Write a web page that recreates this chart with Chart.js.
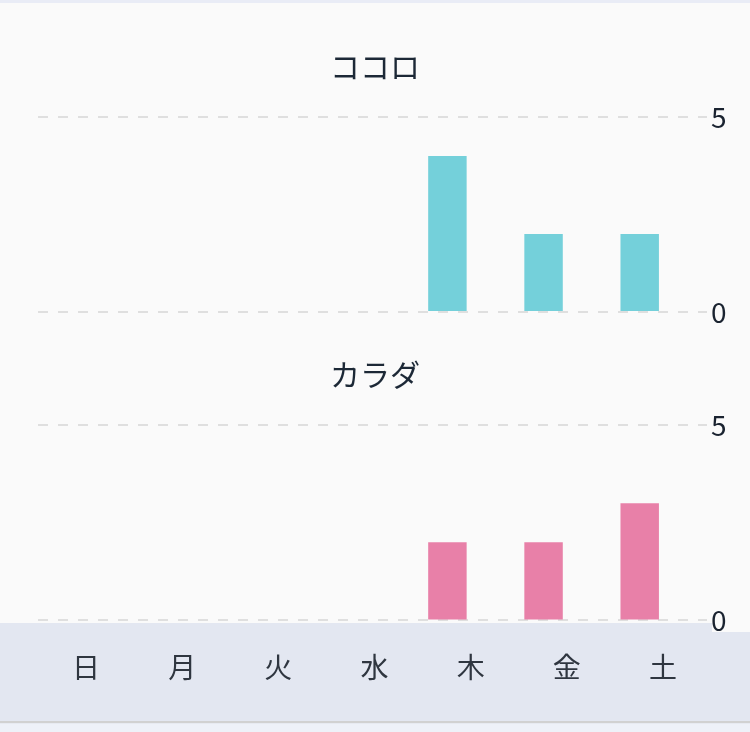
<!DOCTYPE html>
<html>
<head>
<meta charset="utf-8">
<script src="https://cdn.jsdelivr.net/npm/chart.js@4"></script>
<style>
  html, body { margin: 0; padding: 0; }
  body { width: 750px; height: 732px; background: #eef1f8; position: relative; overflow: hidden; }
  #page { position: absolute; left: 0; top: 3px; width: 750px; height: 720px; background: #fafafa; }
  #topline { position: absolute; left: 0; top: 0; width: 750px; height: 3px; background: #e9ecf6; }
  #band { position: absolute; left: 0; top: 623px; width: 750px; height: 98px; background: #e3e7f1; box-shadow: 0 2px 1px rgba(0,0,0,0.16); z-index: 1; }
  #tickbox { position: absolute; left: 712px; top: 623px; width: 38px; height: 9px; background: #fafafa; z-index: 2; }
  canvas { position: absolute; left: 0; }
  #c1 { top: 40px; z-index: 3; }
  #c2 { top: 348px; z-index: 3; }
</style>
</head>
<body>
<div id="topline"></div>
<div id="page"></div>
<div id="band"></div>
<div id="tickbox"></div>
<canvas id="c1" width="750" height="300" style="width:750px;height:300px"></canvas>
<canvas id="c2" width="750" height="372" style="width:750px;height:372px"></canvas>
<script>
const days = ['日', '月', '火', '水', '木', '金', '土'];
const kokoroTitle = 'ココロ';
const karadaTitle = 'カラダ';
const kokoroValues = [null, null, null, null, 4, 2, 2];
const karadaValues = [null, null, null, null, 2, 2, 3];
const emptySlot = [null, null, null, null, null, null, null];
const yTicks = [0, 5];

const FONT = "'Noto Sans CJK JP', 'Noto Sans', sans-serif";

function makeChart(id, title, values, color, showX) {
  return new Chart(document.getElementById(id), {
    type: 'bar',
    data: {
      labels: days,
      datasets: [
        { data: values, backgroundColor: color, borderWidth: 0, barPercentage: 1, categoryPercentage: 0.8, yAxisID: 'y' },
        { data: emptySlot, backgroundColor: color, borderWidth: 0, barPercentage: 1, categoryPercentage: 0.8, yAxisID: 'y' }
      ]
    },
    options: {
      responsive: false,
      animation: false,
      devicePixelRatio: 1,
      layout: { padding: { left: 14, right: 14, top: 0, bottom: showX ? 6 : 28 } },
      plugins: {
        legend: { display: false },
        tooltip: { enabled: false },
        title: {
          display: true,
          text: title,
          color: '#1c2836',
          font: { family: FONT, size: 30, weight: 'normal', lineHeight: 1.2 },
          padding: { top: 9, bottom: 32 }
        }
      },
      scales: {
        x: {
          display: showX,
          grid: { display: false, drawTicks: false },
          border: { display: false },
          ticks: {
            padding: 30,
            labelOffset: 4,
            color: '#2f3640',
            maxRotation: 0,
            autoSkip: false,
            font: { family: FONT, size: 28 }
          }
        },
        yl: {
          position: 'left',
          display: true,
          min: 0,
          max: 5,
          grid: { display: false, drawTicks: false },
          border: { display: false },
          ticks: { display: false },
          afterFit(axis) { axis.width = 20; }
        },
        y: {
          position: 'right',
          min: yTicks[0],
          max: yTicks[yTicks.length - 1],
          afterBuildTicks: (axis) => { axis.ticks = yTicks.map(v => ({ value: v })); },
          afterFit(axis) { axis.width = 29; },
          border: { display: false, dash: [10, 10], dashOffset: 16 },
          grid: {
            color: '#dfdfdf',
            lineWidth: 2,
            drawTicks: false
          },
          ticks: {
            padding: 4,
            color: '#1a2330',
            font: { family: FONT, size: 28 }
          }
        }
      }
    }
  });
}

const c1 = makeChart('c1', kokoroTitle, kokoroValues, '#74d0da', false);
const c2 = makeChart('c2', karadaTitle, karadaValues, '#e880a8', true);
</script>
</body>
</html>
